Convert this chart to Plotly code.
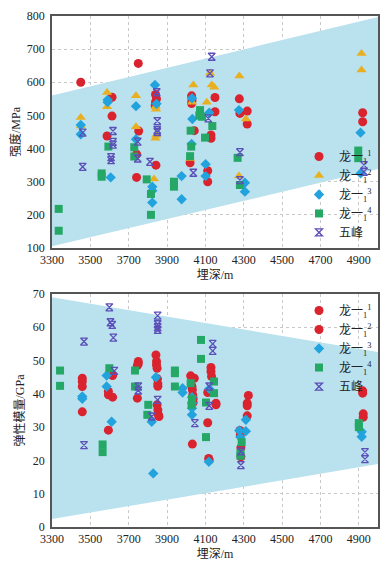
import plotly.graph_objects as go

# ---------------- data: strength (MPa) vs burial depth (m) ----------------
s1_x = [3450, 3750, 3613, 3613, 3587, 3752, 3741, 3741, 3840, 3845, 3840, 3842, 4028, 4030, 4028,
        4150, 4150, 4277, 4280, 4318, 4318, 4042, 4129, 4129, 4020, 4112, 4112, 4920, 4920, 3838]
s1_y = [600, 657, 555, 498, 438, 453, 383, 313, 563, 550, 541, 350, 559, 545, 536,
        554, 511, 550, 506, 513, 474, 454, 441, 431, 357, 333, 300, 508, 481, 530]

s2_x = [3450, 3450, 3587, 3587, 3738, 3738, 3840, 3842, 3840, 3843, 3832, 4037, 4030, 4020,
        4124, 4133, 4146, 4107, 4277, 4311, 4275, 4914, 4914]
s2_y = [494, 468, 569, 526, 559, 466, 526, 519, 431, 440, 308, 592, 540, 370,
        627, 592, 585, 540, 619, 489, 317, 687, 637]

s3_x = [3450, 3450, 3590, 3590, 3606, 3738, 3738, 3837, 3845, 3823, 3823, 3823, 3976, 3976,
        4030, 4032, 4028, 4101, 4101, 4120, 4275, 4306, 4306, 4909, 4909]
s3_y = [471, 443, 547, 540, 313, 528, 428, 592, 535, 285, 273, 237, 317, 247,
        552, 489, 414, 353, 317, 508, 516, 297, 270, 448, 325]

s4_x = [3335, 3335, 3559, 3559, 3594, 3729, 3729, 3794, 3816, 3816, 3936, 3936, 4072, 4082,
        4068, 4136, 4023, 4098, 4026, 4020, 4268, 4280, 4897, 4897]
s4_y = [218, 152, 325, 315, 406, 404, 376, 307, 263, 200, 300, 285, 516, 496,
        500, 468, 454, 433, 406, 377, 372, 290, 394, 371]

s5_x = [3460, 3460, 3618, 3618, 3618, 3608, 3608, 3747, 3747, 3846, 3849, 3849, 3849, 3811,
        4133, 4124, 4115, 4037, 4280, 4280, 4927, 4927]
s5_y = [448, 345, 453, 420, 412, 374, 365, 421, 370, 570, 483, 456, 450, 360,
        677, 627, 491, 327, 389, 305, 350, 330]

band1_x = [3300, 5000]
band1_upper = [560, 797]
band1_lower = [105, 338]

# ---------------- data: elastic modulus (GPa) vs burial depth (m) ----------------
e1_x = [3458, 3458, 3458, 3458, 3616, 3594, 3594, 3616, 3594, 3750, 3750, 3745, 3745,
        3842, 3845, 3845, 3848, 3850, 3852, 3852, 4023, 4042, 4030, 4032, 4032,
        4129, 4129, 4112, 4117, 4920, 4920]
e1_y = [44.7, 43.7, 42.2, 34.6, 45.5, 40.7, 39.7, 39.0, 29.1, 49.7, 49.0, 48.5, 38.7,
        51.7, 49.7, 48.7, 47.7, 44.5, 43.0, 42.3, 45.4, 44.7, 42.2, 41.2, 24.9,
        47.9, 46.7, 40.4, 20.6, 40.9, 40.2]

e2_x = [3848, 3852, 3855, 3858, 4034, 4036, 4036, 4132, 4155, 4155, 4112, 4120,
        4324, 4318, 4318, 4318, 4280, 4282, 4285, 4285, 4923, 4923]
e2_y = [36.7, 35.2, 33.7, 33.2, 39.7, 38.7, 37.4, 45.2, 37.2, 36.7, 31.3, 20.1,
        39.5, 37.2, 36.4, 33.4, 29.0, 27.6, 23.8, 21.1, 34.0, 33.0]

e3_x = [3458, 3458, 3585, 3585, 3611, 3842, 3820, 3828, 3981, 3981, 4030, 4030, 4030, 4030,
        4120, 4118, 4311, 4277, 4311, 4282, 4915, 4915]
e3_y = [39.2, 38.5, 45.5, 42.2, 31.6, 45.0, 31.6, 16.1, 41.7, 40.4, 39.0, 37.2, 35.7, 33.7,
        41.5, 19.6, 32.2, 29.0, 28.8, 27.0, 28.6, 27.1]

e4_x = [3342, 3342, 3564, 3564, 3599, 3733, 3733, 3802, 3797, 3941, 3941, 3941, 4023, 4030, 4028,
        4077, 4077, 4103, 4103, 4145, 4145, 4289, 4283, 4283, 4900, 4900]
e4_y = [47.0, 42.4, 24.8, 22.5, 47.7, 47.0, 42.2, 36.7, 33.7, 47.0, 46.2, 42.2, 43.2, 38.5, 36.7,
        56.2, 50.5, 37.4, 27.0, 43.7, 40.2, 25.5, 22.2, 21.4, 31.2, 30.0]

e5_x = [3467, 3467, 3599, 3605, 3614, 3620, 3625, 3750, 3750, 3851, 3851, 3851, 3851, 3851,
        3820, 4045, 4138, 4138, 4120, 4120, 4285, 4285, 4932, 4932]
e5_y = [55.7, 24.6, 66.0, 61.5, 60.7, 56.9, 46.9, 42.2, 41.0, 63.5, 60.9, 60.0, 59.2, 38.2,
        33.2, 31.2, 55.0, 52.9, 42.2, 36.4, 22.7, 18.6, 22.5, 20.4]

band2_x = [3300, 5000]
band2_upper = [69.0, 52.6]
band2_lower = [2.4, 18.9]

x_ticks = [3300, 3500, 3700, 3900, 4100, 4300, 4500, 4700, 4900]

names = ["龙一<sub>1</sub><sup>1</sup>", "龙一<sub>1</sub><sup>2</sup>",
         "龙一<sub>1</sub><sup>3</sup>", "龙一<sub>1</sub><sup>4</sup>", "五峰"]

RED = "#d9232e"
ORANGE = "#e8b020"
BLUE = "#22a3dd"
GREEN = "#25a866"
PURPLE = "#5b4fb8"
BAND = "rgb(186,225,238)"

SERIF = "'Liberation Serif', 'Noto Sans CJK SC', serif"

fig = go.Figure()

# bands
fig.add_trace(go.Scatter(
    x=band1_x + band1_x[::-1], y=band1_upper + band1_lower[::-1],
    fill="toself", fillcolor=BAND, line=dict(width=0), mode="lines",
    hoverinfo="skip", showlegend=False, xaxis="x", yaxis="y"))
fig.add_trace(go.Scatter(
    x=band2_x + band2_x[::-1], y=band2_upper + band2_lower[::-1],
    fill="toself", fillcolor=BAND, line=dict(width=0), mode="lines",
    hoverinfo="skip", showlegend=False, xaxis="x2", yaxis="y2"))

top_series = [
    (s1_x, s1_y, dict(symbol="circle", size=9, color=RED)),
    (s2_x, s2_y, dict(symbol="triangle-up", size=9, color=ORANGE)),
    (s3_x, s3_y, dict(symbol="diamond", size=8, color=BLUE)),
    (s4_x, s4_y, dict(symbol="square", size=8, color=GREEN)),
    (s5_x, s5_y, dict(symbol="hourglass-open", size=7, color=PURPLE, line=dict(width=1.3, color=PURPLE))),
]
for (xs, ys, mk), nm in zip(top_series, names):
    fig.add_trace(go.Scatter(x=xs, y=ys, mode="markers", name=nm, marker=mk,
                             xaxis="x", yaxis="y", legend="legend"))

bot_series = [
    (e1_x, e1_y, dict(symbol="circle", size=9, color=RED)),
    (e2_x, e2_y, dict(symbol="circle", size=9, color=RED)),
    (e3_x, e3_y, dict(symbol="diamond", size=8, color=BLUE)),
    (e4_x, e4_y, dict(symbol="square", size=8, color=GREEN)),
    (e5_x, e5_y, dict(symbol="hourglass-open", size=7, color=PURPLE, line=dict(width=1.3, color=PURPLE))),
]
for (xs, ys, mk), nm in zip(bot_series, names):
    fig.add_trace(go.Scatter(x=xs, y=ys, mode="markers", name=nm, marker=mk,
                             xaxis="x2", yaxis="y2", legend="legend2"))

axis_common = dict(
    showline=True, mirror=True, linecolor="#555555", linewidth=1.5,
    showgrid=True, gridcolor="#c9c9c9", griddash="dot", gridwidth=1,
    zeroline=False, ticks="", tickfont=dict(family=SERIF, size=12, color="#222"),
    title_font=dict(family=SERIF, size=12, color="#222"), automargin=True,
)

legend_common = dict(
    bgcolor="rgba(0,0,0,0)", font=dict(family=SERIF, size=12, color="#222"),
    itemwidth=30, tracegroupgap=0, borderwidth=0, xanchor="right", x=1.0,
)

# the page body adds an 8px offset, so the margins are reduced by that amount
fig.update_layout(
    width=384, height=557,
    margin=dict(l=44, r=14, t=8, b=38, autoexpand=False),
    paper_bgcolor="white", plot_bgcolor="white",
    font=dict(family=SERIF, size=12, color="#222"),
    xaxis=dict(axis_common, domain=[0, 1], anchor="y", range=[3300, 5000],
               tickvals=x_ticks, title=dict(text="埋深/m", standoff=4)),
    yaxis=dict(axis_common, domain=[0.546, 1], anchor="x", range=[100, 800], dtick=100,
               title=dict(text="强度/MPa", standoff=6), ticklabelstandoff=3),
    xaxis2=dict(axis_common, domain=[0, 1], anchor="y2", range=[3300, 5000],
                tickvals=x_ticks, title=dict(text="埋深/m", standoff=4)),
    yaxis2=dict(axis_common, domain=[0, 0.456], anchor="x2", range=[0, 70], dtick=10,
                title=dict(text="弹性模量/GPa", standoff=6), ticklabelstandoff=3),
    legend=dict(legend_common, y=0.548, yanchor="bottom"),
    legend2=dict(legend_common, y=0.452, yanchor="top"),
)

fig.write_html("out.html")
